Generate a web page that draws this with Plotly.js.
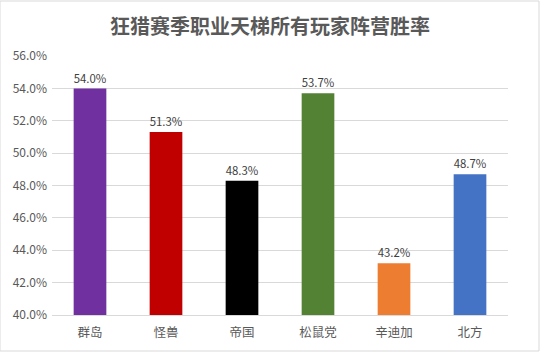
<!DOCTYPE html>
<html><head><meta charset="utf-8">
<script src="https://cdn.plot.ly/plotly-3.0.1.min.js"></script>
<style>html,body{margin:0;padding:0;background:#fff;}#c{width:540px;height:352px;}</style>
</head><body><div id="c"></div>
<script>
const categories = ['群岛','怪兽','帝国','松鼠党','辛迪加','北方'];
const winRates = [54.0, 51.3, 48.3, 53.7, 43.2, 48.7];
const barColors = ['#7030A0','#C00000','#000000','#548235','#ED7D31','#4472C4'];
const tickVals = [40,42,44,46,48,50,52,54,56];
const tickText = tickVals.map(v => v.toFixed(1) + '%');

const font = "'Microsoft YaHei','Noto Sans CJK SC','DejaVu Sans',sans-serif";
Plotly.newPlot('c', [{
  type: 'bar',
  x: categories,
  y: winRates,
  marker: {color: barColors},
  width: 0.43,
  text: winRates.map(v => v.toFixed(1) + '%'),
  textposition: 'outside',
  cliponaxis: false,
  textfont: {family: font, size: 12, color: '#404040'},
  hoverinfo: 'none'
}], {
  width: 540, height: 352,
  margin: {l: 52, r: 32, t: 56, b: 37},
  paper_bgcolor: '#fff', plot_bgcolor: '#fff',
  title: {text: '<b>狂猎赛季职业天梯所有玩家阵营胜率</b>', x: 0.5, xanchor: 'center', y: 0.922, yanchor: 'middle',
    font: {family: font, size: 20, color: '#595959'}},
  xaxis: {type: 'category', showgrid: false, showline: true, linecolor: '#d9d9d9', ticks: '',
    ticklabelstandoff: 6,
    tickfont: {family: font, size: 12.5, color: '#595959'}, fixedrange: true},
  yaxis: {range: [40, 56], tickvals: tickVals, ticktext: tickText, showgrid: true, gridcolor: '#d9d9d9',
    ticklabelstandoff: 4,
    zeroline: false, showline: false, ticks: '', tickfont: {family: font, size: 12, color: '#595959'}, fixedrange: true},
  shapes: [{type: 'rect', xref: 'paper', yref: 'paper', x0: -52/456, x1: 1 + 31/456, y0: -36/259, y1: 1 + 55/259,
    line: {color: '#d9d9d9', width: 1}}],
  showlegend: false
}, {displayModeBar: false, staticPlot: true});
</script></body></html>
